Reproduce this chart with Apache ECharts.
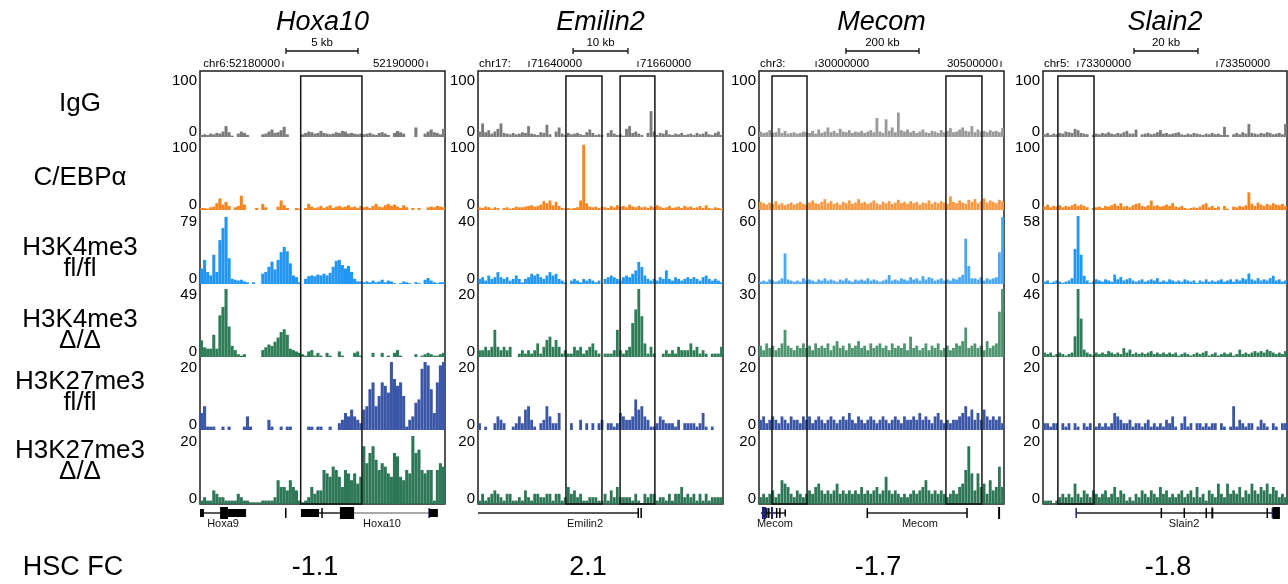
<!DOCTYPE html>
<html><head><meta charset="utf-8">
<script src="https://cdn.jsdelivr.net/npm/echarts@6/dist/echarts.min.js"></script>
<style>html,body{margin:0;padding:0;background:#fff}#c{width:1288px;height:584px}</style>
</head><body><div id="c"></div><script>
const FONT = '"Liberation Sans", Arial, Helvetica, sans-serif';

// ---------- text content ----------
const panelTitles = ['Hoxa10', 'Emilin2', 'Mecom', 'Slain2'];
const hscFC = ['-1.1', '2.1', '-1.7', '-1.8'];
const trackNames = ['IgG', 'C/EBP\u03b1', 'H3K4me3\nfl/fl', 'H3K4me3\n\u0394/\u0394', 'H3K27me3\nfl/fl', 'H3K27me3\n\u0394/\u0394'];
const trackMax = [
  [100, 100, 79, 49, 20, 20],
  [100, 100, 40, 20, 20, 20],
  [100, 100, 60, 30, 20, 20],
  [100, 100, 58, 46, 20, 20]
];

// ---------- Hoxa10 tracks ----------
const hox_IgG = [3,4,3,5,4,6,5,8,16,7, 2,0,5,8,6,3,0,0,0,0, 4,5,8,11,6,7,10,15,4,0, 0,0,0,4,6,8,7,5,6,9, 6,5,4,5,7,6,9,8,5,6, 5,4,5,4,5,6,4,3,6,7, 5,3,0,6,9,7,5,0,0,0, 14,0,0,5,8,11,7,6,4,12];
const hox_CEBPA = [3,3,2,4,5,10,17,8,12,6, 0,4,6,21,8,0,0,0,3,0, 9,4,0,0,0,5,14,7,3,0, 0,3,2,0,3,9,5,3,4,6, 3,5,7,3,5,6,4,5,7,4, 5,3,6,4,5,3,6,9,5,4, 7,9,6,8,5,3,7,4,0,3, 0,3,0,0,4,5,4,6,5,4];
const hox_K4fl = [18,28,14,10,34,14,51,65,78,30, 6,5,4,5,3,2,0,2,0,0, 12,14,20,26,17,28,37,43,38,24, 10,8,2,0,6,9,10,9,11,10, 12,10,13,20,27,28,22,18,21,14, 6,3,3,2,3,2,4,2,3,5, 2,4,3,1,0,1,3,2,1,0, 2,1,0,5,7,4,2,1,2,2];
const hox_K4del = [12,7,6,6,16,6,30,36,49,22, 8,5,2,1,2,0,0,0,0,0, 5,7,9,8,11,14,18,20,16,6, 5,4,3,2,1,4,5,1,3,1, 0,3,1,0,0,4,1,0,0,0, 3,4,1,0,0,0,3,0,0,3, 0,1,0,3,5,1,0,0,0,0, 2,0,1,2,3,2,1,1,2,3];
const hox_K27fl = [5,7,1,1,1,0,0,1,0,1, 0,0,0,0,1,4,1,0,0,0, 0,0,3,1,0,0,1,0,1,1, 0,0,0,0,0,1,1,0,1,1, 0,0,1,0,0,2,3,5,4,6, 4,3,2,6,7,12,14,7,10,14, 13,11,20,15,13,14,10,1,3,4, 8,9,18,20,19,12,5,14,19,20];
const hox_K27del = [1,2,1,1,4,3,2,2,1,1, 1,1,3,2,1,1,0.5,0.5,0.5,0.5, 1,1,1,1,2,7,5,5,4,7, 5,4,1,0.5,1,2,5,3,4,4, 10,9,8,11,10,8,5,10,9,7, 9,6,8,17,12,15,17,13,10,12, 11,9,8,15,14,8,7,10,9,20, 15,16,10,9,10,10,1,10,12,11];

// ---------- Emilin2 tracks ----------
const emi_IgG = [8,20,7,10,5,8,12,20,6,5, 4,6,4,5,7,6,16,5,4,3, 7,6,18,4,0,8,14,5,3,6, 4,5,6,4,3,7,11,6,3,4, 3,0,6,10,5,3,4,2,12,16, 6,8,5,3,0,6,38,8,3,6, 5,10,4,3,5,4,6,3,4,5, 3,6,4,5,8,4,3,6,8,3];
const emi_CEBPA = [4,3,5,4,2,4,3,0,3,4, 2,3,5,4,4,5,6,7,5,6, 8,13,10,14,7,12,6,3,2,3, 2,3,4,14,96,10,5,4,5,3, 5,4,3,6,4,7,5,6,4,8, 5,4,6,4,5,3,6,4,7,5, 3,4,6,3,4,5,3,6,4,5, 3,4,6,3,7,3,2,4,3,2];
const emi_K4fl = [3,4,2,5,3,4,7,4,3,4, 2,3,5,3,1,3,4,6,5,6, 4,3,5,7,5,6,3,2,1,0, 2,3,2,1,3,2,3,2,1,2, 0,3,4,5,4,3,2,4,5,4, 6,8,13,10,5,3,2,3,2,4, 3,8,3,2,4,3,2,3,4,3, 4,3,2,4,5,3,2,3,2,1];
const emi_K4del = [2,2,3,2,3,8,3,2,3,2, 3,0,0,1,2,1,2,1,2,4, 1,3,5,6,3,5,3,1,2,1, 1,3,2,3,1,2,3,4,2,1, 0,1,1,1,2,8,2,1,2,3, 10,14,20,12,4,1,3,1,0,0, 1,2,1,2,1,3,2,2,2,4, 2,3,1,2,1,0,1,1,1,3];
const emi_K27fl = [2,0,1,0,0,2,4,3,2,0, 0,1,2,4,2,6,7,3,1,0, 2,3,7,4,2,2,5,0,0,0, 2,0,0,3,0,2,0,2,0,2, 3,0,2,2,1,2,5,4,3,3, 4,9,6,7,4,3,1,1,2,4, 3,2,2,2,1,3,0,2,2,2, 2,1,2,5,1,0,1,0,0,0];
const emi_K27del = [1,3,1,2,3,4,3,2,1,3, 3,1,1,2,1,4,2,1,3,3, 2,2,3,3,1,3,3,1,2,5, 3,4,2,3,1,1,2,2,2,1, 1,3,1,4,2,5,2,2,2,2, 1,3,1,0,3,2,3,3,1,2, 2,1,3,1,3,3,5,2,3,2, 3,1,3,1,3,1,2,2,2,2];

// ---------- Mecom tracks ----------
const mec_IgG = [8,6,7,10,6,7,13,6,9,5, 6,7,5,6,8,7,6,9,5,11, 6,8,14,7,9,6,12,8,7,10, 6,8,7,9,6,8,10,7,28,8, 6,26,9,14,7,36,10,8,11,7, 9,6,8,11,7,6,9,8,6,10, 7,9,13,7,8,11,14,9,8,16, 7,11,8,9,7,10,8,9,7,13];
const mec_CEBPA = [12,10,8,11,9,13,8,10,7,9, 11,8,10,12,9,8,11,14,10,9, 12,16,10,13,9,11,8,12,10,14, 9,11,16,10,12,9,11,14,10,8, 12,10,13,9,11,15,10,12,9,13, 10,12,8,11,10,14,9,12,10,13, 11,9,20,12,10,14,11,9,15,12, 16,10,13,17,11,14,12,10,15,13];
const mec_K4fl = [2,3,2,4,3,2,3,5,27,4, 3,2,3,2,5,3,4,3,2,4, 3,5,3,4,3,2,4,3,5,3, 2,4,3,4,3,5,3,4,3,2, 3,4,8,3,4,3,5,4,3,6, 4,5,3,7,4,6,5,3,4,5, 3,4,3,5,4,6,8,40,16,5, 5,4,6,3,5,4,5,6,28,59];
const mec_K4del = [5,3,6,4,5,3,4,6,12,5, 4,3,5,4,6,4,5,3,6,4, 5,4,6,3,5,7,4,5,3,6, 4,5,7,4,5,3,6,4,5,6, 4,5,3,6,4,5,4,6,3,9, 4,5,3,4,6,3,5,4,6,3, 4,5,3,4,6,5,7,13,4,5, 6,4,5,3,7,4,5,6,20,30];
const mec_K27fl = [3,4,2,3,4,3,2,4,3,2, 4,3,3,2,4,3,4,2,3,4, 3,2,3,4,3,2,3,4,3,5, 3,2,4,3,2,3,4,3,2,3, 4,3,2,3,4,3,2,4,3,3, 4,3,5,3,4,3,2,4,5,3, 2,3,2,3,3,4,5,7,4,6, 3,5,3,6,4,3,4,3,4,2];
const mec_K27del = [2,3,2,3,4,2,3,7,6,5, 3,2,4,3,2,3,4,3,5,6, 4,3,4,3,4,6,3,4,3,4, 3,4,3,5,3,4,3,4,5,3, 4,8,4,3,4,3,2,3,2,3, 4,3,4,5,7,4,3,4,3,4, 3,2,3,4,3,5,6,10,17,9, 4,9,5,6,3,7,4,5,11,5];

// ---------- Slain2 tracks ----------
const sla_IgG = [4,6,3,5,4,6,5,8,7,6, 12,10,6,5,4,0,3,5,4,6, 5,7,5,4,6,5,7,9,5,5, 11,0,4,5,6,4,5,7,10,5, 6,4,5,6,7,4,3,5,4,6, 5,4,3,5,4,6,4,5,3,15, 3,0,4,6,4,7,5,19,6,5, 4,6,5,7,6,4,5,6,4,19];
const sla_CEBPA = [5,8,4,6,5,7,4,6,5,7, 9,6,8,6,4,0,3,4,5,3, 6,5,7,9,6,10,5,6,4,7, 9,10,6,5,7,14,6,7,5,6, 8,6,10,5,4,6,3,2,3,4, 3,5,8,10,4,6,3,5,0,6, 2,0,5,4,6,5,7,26,9,6, 11,8,6,9,7,10,8,7,9,6];
const sla_K4fl = [2,3,1,2,3,2,1,2,3,5, 30,58,25,7,3,1,2,4,3,2, 4,3,2,8,4,6,3,4,5,3, 2,3,4,2,3,4,3,5,2,3, 2,4,3,2,3,2,4,3,2,3, 1,3,2,4,2,3,2,3,4,2, 3,4,2,4,3,5,4,9,4,3, 5,3,4,3,5,7,3,4,2,3];
const sla_K4del = [3,2,3,1,2,3,2,1,2,3, 14,46,26,5,3,2,1,3,2,3, 2,4,3,2,3,2,6,3,5,2, 3,2,3,2,3,4,2,3,2,3, 2,3,2,3,1,2,3,2,1,2, 3,2,3,4,1,2,3,1,2,3, 2,3,1,2,5,2,3,2,3,4, 3,4,3,5,4,3,2,3,2,4];
const sla_K27fl = [2,2,1,2,2,0,2,1,2,0, 2,1,0,2,1,2,0,1,2,1, 2,1,2,5,4,3,2,2,3,1, 2,2,1,2,3,1,2,1,2,1, 3,2,4,1,0,2,4,1,2,0, 2,2,1,2,1,2,2,0,2,1, 0,1,7,1,3,2,1,2,2,0, 1,3,2,1,0,2,1,0,2,2];
const sla_K27del = [1,1,1,0,1,2,3,2,3,2, 6,3,2,4,3,2,4,3,2,3, 4,2,3,5,2,4,3,1,2,1, 3,2,4,3,2,4,3,2,5,3, 4,2,3,2,3,4,2,3,4,2, 5,2,3,1,4,3,2,6,3,2, 6,3,4,3,5,2,4,3,6,4, 3,5,4,6,3,5,4,2,3,2];

// ---------- annotations (x in % of window) ----------
const highlights = [
  [[41.1, 66.1]],
  [[35.9, 50.6], [58.0, 72.2]],
  [[5.3, 19.6], [76.3, 91.0]],
  [[6.1, 20.9]]
];
const scaleBars = [[35.1, 64.5, '5 kb'], [38.8, 61.2, '10 kb'], [35.5, 65.3, '200 kb'], [37.3, 63.5, '20 kb']];
const coordLabels = [
  [[33.9, 'chr6:52180000', 'L'], [92.7, '52190000', 'L']],
  [[0.4, 'chr17:', 'T'], [20.8, '71640000', 'R'], [65.3, '71660000', 'R']],
  [[0.4, 'chr3:', 'T'], [23.3, '30000000', 'R'], [98.8, '30500000', 'L']],
  [[0.4, 'chr5:', 'T'], [14.3, '73300000', 'R'], [71.3, '73350000', 'R']]
];
const geneParts = [
  [['line',0,16.3],['utr',0,1.6],['exon',8.2,11.4],['utr',11.4,18.8],['tick',34.7,35.3],
   ['utr',41.2,48.6],['line',48.6,57.1],['tick',49.5,50.1],['exon',57.1,62.9],['thin',62.9,93.5],['btick',93.2,93.7],['utr',93.5,97.1]],
  [['line',0,65.3],['tick',65.1,65.6],['tick',66.3,66.8]],
  [['line',0.8,10.6],['nblock',1.2,2.9],['tick',2.9,3.4],['tick',3.7,4.2],['nblock',4.9,5.7],['tick',6.9,7.4],['tick',8.2,8.7],['stick',10.4,10.9],
   ['line',44.1,84.9],['tick',43.9,44.4],['tick',84.6,85.1],['exon',97.6,98.4]],
  [['line',13.5,97.1],['btick',13.3,13.9],['tick',48.2,48.7],['tick',57.6,58.1],['tick',66.6,67.1],['bexon',69.0,69.8],['tick',91.6,92.1],['btick',93.7,94.2],['exon',94.1,97.1]]
];
const geneLabels = [[['Hoxa9', 9.4], ['Hoxa10', 74.3]], [['Emilin2', 43.7]], [['Mecom', 6.5], ['Mecom', 65.7]], [['Slain2', 57.8]]];

const tracksData = [
  [hox_IgG, hox_CEBPA, hox_K4fl, hox_K4del, hox_K27fl, hox_K27del],
  [emi_IgG, emi_CEBPA, emi_K4fl, emi_K4del, emi_K27fl, emi_K27del],
  [mec_IgG, mec_CEBPA, mec_K4fl, mec_K4del, mec_K27fl, mec_K27del],
  [sla_IgG, sla_CEBPA, sla_K4fl, sla_K4del, sla_K27fl, sla_K27del]
];

// ---------- layout / style ----------
const trackColors = ['#7b7b7b', '#f7841f', '#2196f3', '#2e7d56', '#3b56a6', '#2e7756'];
const mecomColors = ['#9a9a9a', '#f89a45', '#4aa8f5', '#4f9570', '#3b56a6', '#2e7756'];
const panelLeft = [200, 478, 759, 1043];
const panelWidth = [245, 245, 245, 244];
const rowBase = [137, 210, 284, 357, 430, 504];
const trackH = 68;
const topLabelPad = [24, 12, 12, 12, 12, 12];
const geneStyle = {
  line: {h: 1.5, c: '#222'}, thin: {h: 1, c: '#555'}, exon: {h: 12, c: '#000'}, utr: {h: 8, c: '#000'},
  tick: {h: 10, c: '#000'}, btick: {h: 10, c: '#1a237e'}, nblock: {h: 12, c: '#1a237e'}, stick: {h: 7, c: '#000'},
  bexon: {h: 11, c: '#000'}
};

const grids = [], xAxes = [], yAxes = [], series = [];
function addGrid(g, xa, ya) {
  grids.push(g);
  const i = grids.length - 1;
  xa.gridIndex = i; ya.gridIndex = i;
  xAxes.push(xa); yAxes.push(ya);
  return i;
}
const hidX = () => ({type: 'value', min: 0, max: 100, show: false});
const hidY = () => ({type: 'value', min: 0, max: 1, show: false});

for (let p = 0; p < 4; p++) {
  const L = panelLeft[p], W = panelWidth[p];
  for (let r = 0; r < 6; r++) {
    const M = trackMax[p][r];
    const arr = tracksData[p][r];
    const gi = addGrid(
      {left: L, top: rowBase[r] - trackH, width: W, height: trackH},
      {type: 'category', data: arr.map((_, i) => i), show: false},
      {type: 'value', min: 0, max: M, interval: M,
       axisLine: {show: false}, axisTick: {show: false}, splitLine: {show: false},
       axisLabel: {margin: 3, color: '#000', fontFamily: FONT, fontSize: 15,
         formatter: v => v === 0 ? '{b|0}' : '{t|' + v + '}',
         rich: {t: {fontSize: 15, fontFamily: FONT, color: '#000', padding: [topLabelPad[r], 0, 0, 0]},
                b: {fontSize: 15, fontFamily: FONT, color: '#000', padding: [0, 0, 10, 0]}}}}
    );
    series.push({type: 'bar', xAxisIndex: gi, yAxisIndex: gi, data: arr, silent: true,
      barCategoryGap: p === 0 ? '0%' : '8%', itemStyle: {color: (p === 2 ? mecomColors : trackColors)[r]}});
  }
  // frame + highlight boxes
  const fg = addGrid({left: L, top: 71, width: W, height: 433, show: true, borderColor: '#1e1e1e', borderWidth: 1.5}, hidX(), hidY());
  series.push({type: 'custom', xAxisIndex: fg, yAxisIndex: fg, z: 10, silent: true,
    data: highlights[p],
    renderItem: (params, api) => {
      const cs = params.coordSys;
      const x0 = api.coord([api.value(0), 0])[0];
      const x1 = api.coord([api.value(1), 0])[0];
      return {type: 'rect', shape: {x: x0, y: cs.y + 5, width: x1 - x0, height: cs.height - 5},
        style: {fill: 'none', stroke: '#151515', lineWidth: 1.5}};
    }});
  // gene models
  const gg = addGrid({left: L, top: 506, width: W, height: 14}, hidX(), hidY());
  const parts = geneParts[p];
  series.push({type: 'custom', xAxisIndex: gg, yAxisIndex: gg, silent: true,
    data: parts.map(d => [d[1], d[2]]),
    renderItem: (params, api) => {
      const pt = parts[params.dataIndex];
      const cs = params.coordSys;
      const cy = cs.y + 7;
      const x0 = api.coord([api.value(0), 0])[0];
      const x1 = api.coord([api.value(1), 0])[0];
      const s = geneStyle[pt[0]];
      return {type: 'rect', shape: {x: x0, y: cy - s.h / 2, width: Math.max(x1 - x0, 1.5), height: s.h}, style: {fill: s.c}};
    }});
  const gl = geneLabels[p];
  series.push({type: 'custom', xAxisIndex: gg, yAxisIndex: gg, silent: true,
    data: gl.map(d => [d[1], 0]),
    renderItem: (params, api) => {
      const cs = params.coordSys;
      const x = api.coord([api.value(0), 0])[0];
      return {type: 'text', x: x, y: cs.y + 18,
        style: {text: gl[params.dataIndex][0], fontSize: 11, fontFamily: FONT, fill: '#111', align: 'center', verticalAlign: 'middle'}};
    }});
  // header: scale bar + coordinates
  const hg = addGrid({left: L, top: 36, width: W, height: 34}, hidX(), hidY());
  const sb = scaleBars[p];
  series.push({type: 'custom', xAxisIndex: hg, yAxisIndex: hg, silent: true,
    data: [[sb[0], sb[1]]],
    renderItem: (params, api) => {
      const cs = params.coordSys;
      const x0 = api.coord([api.value(0), 0])[0];
      const x1 = api.coord([api.value(1), 0])[0];
      const y = cs.y + 15;
      const st = {stroke: '#111', lineWidth: 1.3};
      return {type: 'group', children: [
        {type: 'line', shape: {x1: x0, y1: y, x2: x1, y2: y}, style: st},
        {type: 'line', shape: {x1: x0, y1: y - 3, x2: x0, y2: y + 3}, style: st},
        {type: 'line', shape: {x1: x1, y1: y - 3, x2: x1, y2: y + 3}, style: st},
        {type: 'text', x: (x0 + x1) / 2, y: cs.y + 7, style: {text: sb[2], fontSize: 11.5, fontFamily: FONT, fill: '#000', align: 'center', verticalAlign: 'middle'}}
      ]};
    }});
  const cl = coordLabels[p];
  series.push({type: 'custom', xAxisIndex: hg, yAxisIndex: hg, silent: true,
    data: cl.map(d => [d[0], 0]),
    renderItem: (params, api) => {
      const cs = params.coordSys;
      const item = cl[params.dataIndex];
      const x = api.coord([api.value(0), 0])[0];
      const ty = cs.y + 28;
      const txt = {fontSize: 11.5, fontFamily: FONT, fill: '#000', verticalAlign: 'middle'};
      if (item[2] === 'T') {
        return {type: 'text', x: x, y: ty, style: Object.assign({text: item[1], align: 'left'}, txt)};
      }
      const tick = {type: 'line', shape: {x1: x, y1: cs.y + 25, x2: x, y2: cs.y + 31}, style: {stroke: '#111', lineWidth: 1}};
      const t = item[2] === 'L'
        ? {type: 'text', x: x - 3, y: ty, style: Object.assign({text: item[1], align: 'right'}, txt)}
        : {type: 'text', x: x + 2, y: ty, style: Object.assign({text: item[1], align: 'left'}, txt)};
      return {type: 'group', children: [tick, t]};
    }});
}

// ---------- free text ----------
const graphics = [];
const panelCenter = panelLeft.map((l, i) => l + panelWidth[i] / 2);
panelTitles.forEach((t, i) => graphics.push({type: 'text', x: panelCenter[i], y: 22, silent: true,
  style: {text: t, fontSize: 27, fontStyle: 'italic', fontFamily: FONT, fill: '#000', align: 'center', verticalAlign: 'middle'}}));
const rowLabelY = [104, 178, 258, 330, 392, 461];
trackNames.forEach((t, i) => graphics.push({type: 'text', x: 80, y: rowLabelY[i], silent: true,
  style: {text: t, fontSize: 26, fontFamily: FONT, fill: '#000', align: 'center', verticalAlign: 'middle', lineHeight: 21}}));
graphics.push({type: 'text', x: 73, y: 568, silent: true,
  style: {text: 'HSC FC', fontSize: 27, fontFamily: FONT, fill: '#000', align: 'center', verticalAlign: 'middle'}});
const fcX = [315, 588, 878, 1168];
hscFC.forEach((t, i) => graphics.push({type: 'text', x: fcX[i], y: 568, silent: true,
  style: {text: t, fontSize: 27, fontFamily: FONT, fill: '#000', align: 'center', verticalAlign: 'middle'}}));

const chart = echarts.init(document.getElementById('c'), null, {renderer: 'canvas', width: 1288, height: 584});
chart.setOption({
  animation: false,
  backgroundColor: '#fff',
  grid: grids, xAxis: xAxes, yAxis: yAxes, series: series,
  graphic: graphics
});
</script></body></html>
